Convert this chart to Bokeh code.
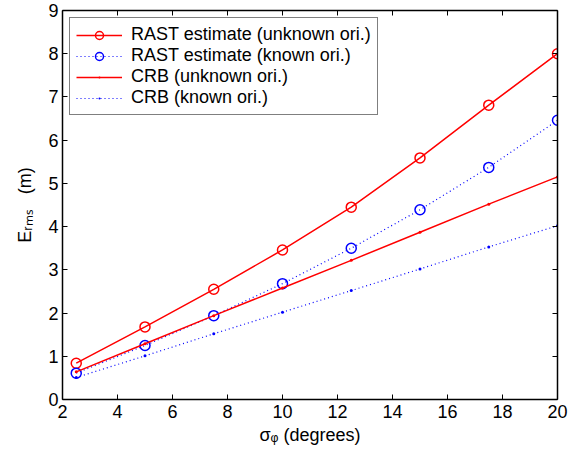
from bokeh.plotting import figure
from bokeh.models import (LinearAxis, FixedTicker, Legend, LegendItem, Range1d)
from bokeh.embed import file_html
from bokeh.resources import INLINE

# ---- data ----
sigma_deg = [2.5, 5.0, 7.5, 10.0, 12.5, 15.0, 17.5, 20.0]
rast_unknown = [0.84, 1.68, 2.55, 3.46, 4.45, 5.59, 6.81, 8.00]
rast_known = [0.61, 1.25, 1.94, 2.68, 3.50, 4.39, 5.37, 6.46]
crb_unknown = [0.64, 1.29, 1.94, 2.58, 3.22, 3.87, 4.52, 5.15]
crb_known = [0.51, 1.01, 1.52, 2.02, 2.52, 3.02, 3.53, 4.02]
x_ticks = [2, 4, 6, 8, 10, 12, 14, 16, 18, 20]
y_ticks = [0, 1, 2, 3, 4, 5, 6, 7, 8, 9]
legend_labels = ["RAST estimate (unknown ori.)", "RAST estimate (known ori.)",
                 "CRB (unknown ori.)", "CRB (known ori.)"]
x_label = "σᵩ (degrees)"
y_label = "Eᵣₘₛ\u00a0\u00a0\u00a0(m)"

FONT = "Liberation Sans"
RED = "#ff0000"
BLUE = "#0000ff"

p = figure(width=570, height=449, output_backend="svg", toolbar_location=None,
           x_range=Range1d(2, 20), y_range=Range1d(0, 9),
           min_border_left=62, min_border_right=13, min_border_top=10, min_border_bottom=50,
           background_fill_color="white", border_fill_color="white")
p.outline_line_color = None
p.xgrid.visible = False
p.ygrid.visible = False

def style_axis(ax, ticks, show_labels=True):
    ax.ticker = FixedTicker(ticks=ticks)
    ax.axis_line_color = "black"
    ax.axis_line_width = 1.5
    ax.major_tick_line_color = "black"
    ax.major_tick_line_width = 1
    ax.major_tick_in = 5
    ax.major_tick_out = 0
    ax.minor_tick_line_color = None
    ax.major_label_text_font = FONT
    ax.major_label_text_color = "black"
    if show_labels:
        ax.major_label_text_font_size = "18px"
        ax.major_label_standoff = 5
        ax.axis_label_text_font = FONT
        ax.axis_label_text_font_size = "18px"
        ax.axis_label_text_font_style = "normal"
        ax.axis_label_text_color = "black"
    else:
        ax.major_label_overrides = {t: "" for t in ticks}
        ax.major_label_text_font_size = "0px"
        ax.major_label_standoff = 0

style_axis(p.xaxis[0], x_ticks)
style_axis(p.yaxis[0], y_ticks)
p.xaxis[0].axis_label = x_label
p.yaxis[0].axis_label = y_label
p.xaxis[0].axis_label_standoff = 4
p.yaxis[0].axis_label_standoff = 10
p.yaxis[0].major_label_standoff = 4

top_ax = LinearAxis()
right_ax = LinearAxis()
style_axis(top_ax, x_ticks, False)
style_axis(right_ax, y_ticks, False)
p.add_layout(top_ax, "above")
p.add_layout(right_ax, "right")

# ---- series ----
l1 = p.line(sigma_deg, rast_unknown, line_color=RED, line_width=1.5)
s1 = p.scatter(sigma_deg, rast_unknown, marker="circle", size=10, fill_color=None,
               line_color=RED, line_width=1.5)
l2 = p.line(sigma_deg, rast_known, line_color=BLUE, line_width=1.2, line_dash="1 3")
s2 = p.scatter(sigma_deg, rast_known, marker="circle", size=10, fill_color=None,
               line_color=BLUE, line_width=1.5)
l3 = p.line(sigma_deg, crb_unknown, line_color=RED, line_width=1.5)
s3 = p.scatter(sigma_deg, crb_unknown, marker="dot", size=12, fill_color=RED,
               line_color=RED, line_width=1)
l4 = p.line(sigma_deg, crb_known, line_color=BLUE, line_width=1.2, line_dash="1 3")
s4 = p.scatter(sigma_deg, crb_known, marker="dot", size=12, fill_color=BLUE,
               line_color=BLUE, line_width=1)

legend = Legend(items=[
    LegendItem(label=legend_labels[0], renderers=[l1, s1]),
    LegendItem(label=legend_labels[1], renderers=[l2, s2]),
    LegendItem(label=legend_labels[2], renderers=[l3, s3]),
    LegendItem(label=legend_labels[3], renderers=[l4, s4]),
], location="top_left", margin=7, padding=6, spacing=0,
   glyph_width=46, glyph_height=20, label_height=20, label_standoff=9,
   label_text_font=FONT, label_text_font_size="18px", label_text_color="black",
   border_line_color="black", border_line_width=1, background_fill_color="white",
   background_fill_alpha=1)
p.add_layout(legend)

open("out.html", "w").write(file_html(p, INLINE))
